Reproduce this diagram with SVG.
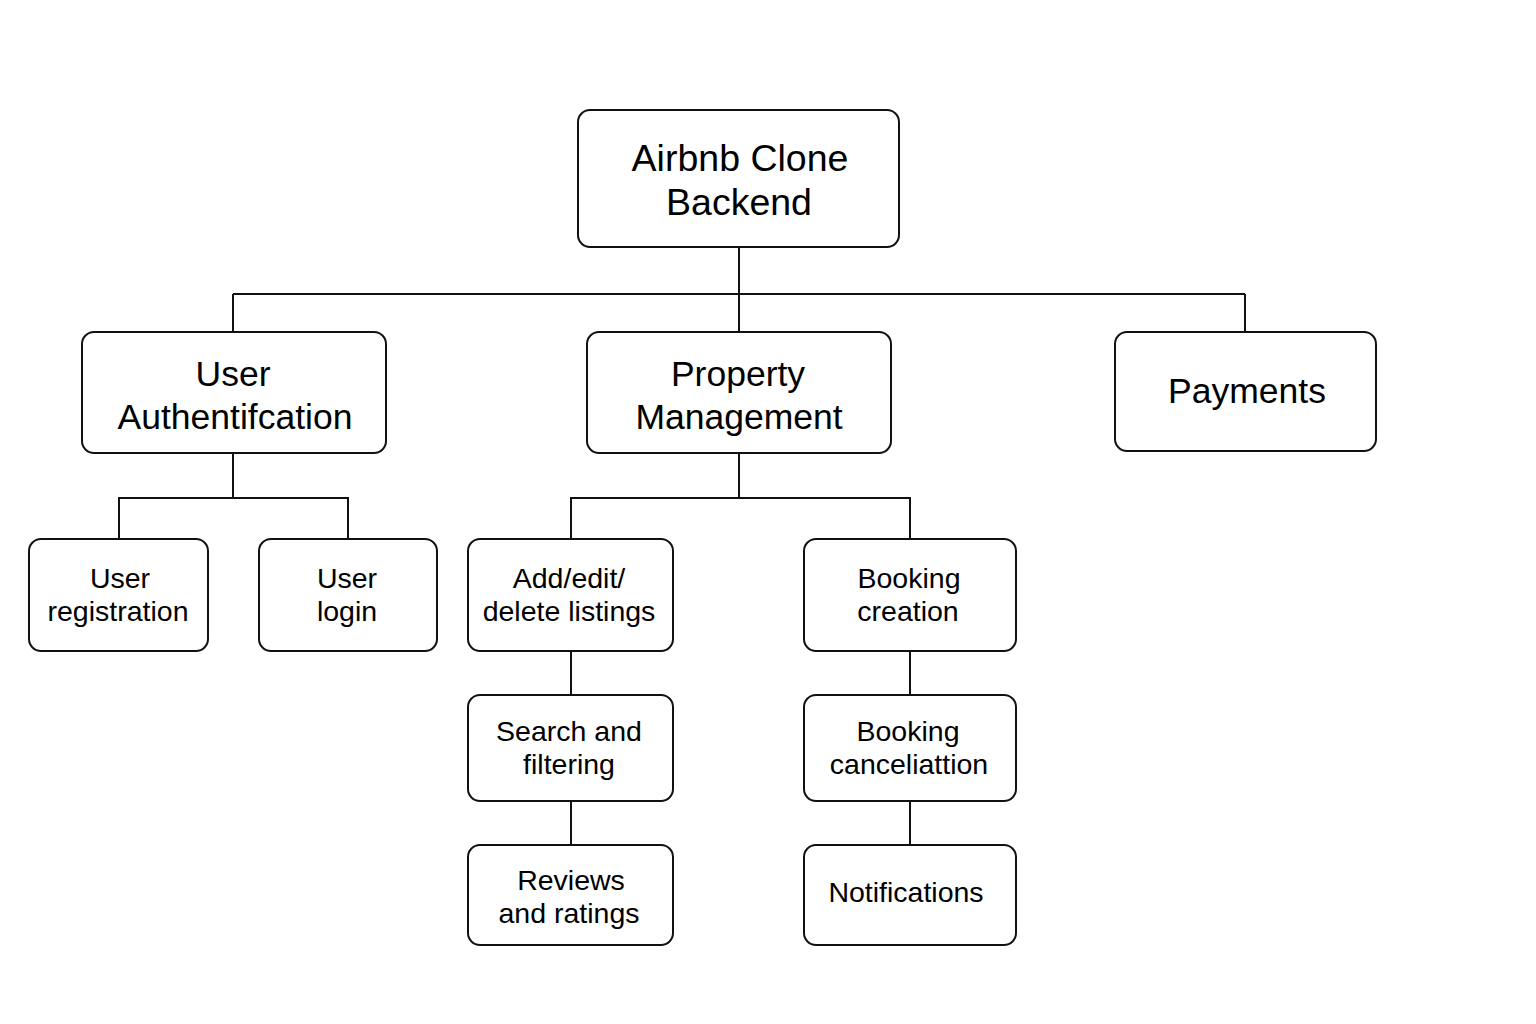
<svg xmlns="http://www.w3.org/2000/svg" width="1536" height="1024" viewBox="0 0 1536 1024">
<style>
.box{fill:#fff;stroke:#111;stroke-width:2}
.t{font-family:"Liberation Sans",Arial,sans-serif;fill:#000;text-anchor:middle}
.l{font-size:35.5px}
.m{font-size:28.5px}
.c{fill:none;stroke:#111;stroke-width:2}
</style>
<rect width="1536" height="1024" fill="#fff"/>
<g id="connectors">
<path class="c" d="M739 247V294M233 294H1245M233 294V332M739 294V332M1245 294V332"/>
<path class="c" d="M233 453V498H119V539M233 498H348V539"/>
<path class="c" d="M739 453V498H571V539M739 498H910V539"/>
<path class="c" d="M571 651V695M571 801V845M910 651V695M910 801V845"/>
</g>
<g id="root"><rect class="box" x="578" y="110" width="321" height="137" rx="12"/>
<text class="t" font-size="37.5" x="740" y="171">Airbnb Clone</text><text class="t" font-size="37.5" x="739" y="215">Backend</text></g>
<g id="auth"><rect class="box" x="82" y="332" width="304" height="121" rx="12"/>
<text class="t l" x="233" y="386">User</text><text class="t l" x="235" y="429">Authentifcation</text></g>
<g id="property"><rect class="box" x="587" y="332" width="304" height="121" rx="12"/>
<text class="t l" x="738" y="386">Property</text><text class="t l" x="739" y="429">Management</text></g>
<g id="payments"><rect class="box" x="1115" y="332" width="261" height="119" rx="12"/>
<text class="t l" x="1247" y="403">Payments</text></g>
<g id="registration"><rect class="box" x="29" y="539" width="179" height="112" rx="12"/>
<text class="t m" x="120" y="588">User</text><text class="t m" x="118" y="621">registration</text></g>
<g id="login"><rect class="box" x="259" y="539" width="178" height="112" rx="12"/>
<text class="t m" x="347" y="588">User</text><text class="t m" x="347" y="621">login</text></g>
<g id="listings"><rect class="box" x="468" y="539" width="205" height="112" rx="12"/>
<text class="t m" x="569" y="588">Add/edit/</text><text class="t m" x="569" y="621">delete listings</text></g>
<g id="search"><rect class="box" x="468" y="695" width="205" height="106" rx="12"/>
<text class="t m" x="569" y="741">Search and</text><text class="t m" x="569" y="774">filtering</text></g>
<g id="reviews"><rect class="box" x="468" y="845" width="205" height="100" rx="12"/>
<text class="t m" x="571" y="890">Reviews</text><text class="t m" x="569" y="923">and ratings</text></g>
<g id="bcreate"><rect class="box" x="804" y="539" width="212" height="112" rx="12"/>
<text class="t m" x="909" y="588">Booking</text><text class="t m" x="908" y="621">creation</text></g>
<g id="bcancel"><rect class="box" x="804" y="695" width="212" height="106" rx="12"/>
<text class="t m" x="908" y="741">Booking</text><text class="t m" x="909" y="774">canceliattion</text></g>
<g id="notifications"><rect class="box" x="804" y="845" width="212" height="100" rx="12"/>
<text class="t m" x="906" y="902">Notifications</text></g>
</svg>
